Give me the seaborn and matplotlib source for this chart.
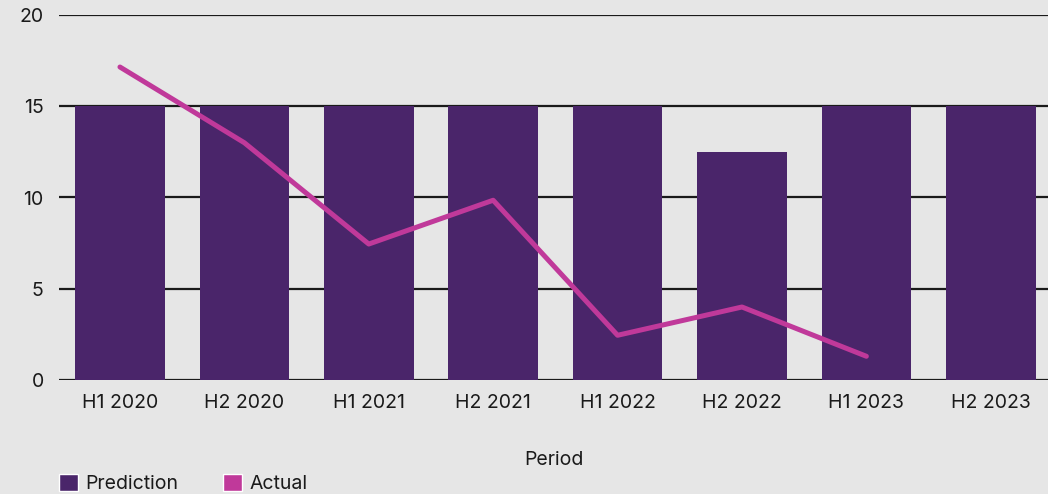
import matplotlib
matplotlib.use("Agg")
import matplotlib.pyplot as plt
from matplotlib.patches import Patch
import seaborn as sns
import pandas as pd

periods = ["H1 2020", "H2 2020", "H1 2021", "H2 2021",
           "H1 2022", "H2 2022", "H1 2023", "H2 2023"]
prediction = [15, 15, 15, 15, 15, 12.5, 15, 15]
actual = [17.15, 13.0, 7.45, 9.85, 2.45, 4.0, 1.3, None]

bar_color = "#4a256a"
line_color = "#c0399a"
bg = "#e6e6e6"

sns.set_theme(style="white")
plt.rcParams["font.family"] = ["Inter", "DejaVu Sans"]

df = pd.DataFrame({"Period": periods, "Prediction": prediction, "Actual": actual})

fig = plt.figure(figsize=(10.48, 4.94), dpi=100, facecolor=bg)
ax = fig.add_axes([59 / 1048, 1 - 380 / 494, 1 - 59 / 1048, 365 / 494])
ax.set_facecolor(bg)

sns.barplot(data=df, x="Period", y="Prediction", color=bar_color,
            width=0.72, saturation=1, linewidth=0, ax=ax, zorder=2)
line_df = df.dropna(subset=["Actual"]).copy()
line_df["pos"] = [periods.index(p) for p in line_df["Period"]]
sns.lineplot(data=line_df, x="pos", y="Actual", color=line_color,
             linewidth=3.6, ax=ax, zorder=3, solid_capstyle="round",
             solid_joinstyle="round")

ax.set_xlim(-0.49, 7.46)
ax.set_ylim(0, 20)
ax.set_yticks([0, 5, 10, 15, 20])
ax.set_xticks(range(len(periods)))
ax.set_xticklabels(periods)
ax.yaxis.grid(True, color="#1a1a1a", linewidth=1.6, zorder=0)
ax.set_axisbelow(True)
for s in ax.spines.values():
    s.set_visible(False)
ax.tick_params(axis="both", length=0, labelsize=14, colors="#1a1a1a")
ax.tick_params(axis="x", pad=10)
ax.tick_params(axis="y", pad=11)
ax.set_ylabel("")
ax.set_xlabel("Period", fontsize=14, color="#1a1a1a", labelpad=28)

handles = [Patch(facecolor=bar_color, label="Prediction"),
           Patch(facecolor=line_color, label="Actual")]
fig.legend(handles=handles, loc="lower left", bbox_to_anchor=(0.04, -0.033),
           ncol=2, frameon=False, fontsize=14, handlelength=0.95, handleheight=0.95,
           handletextpad=0.4, columnspacing=2.3, labelcolor="#1a1a1a")

fig.savefig("out.png", dpi=100, facecolor=bg)
